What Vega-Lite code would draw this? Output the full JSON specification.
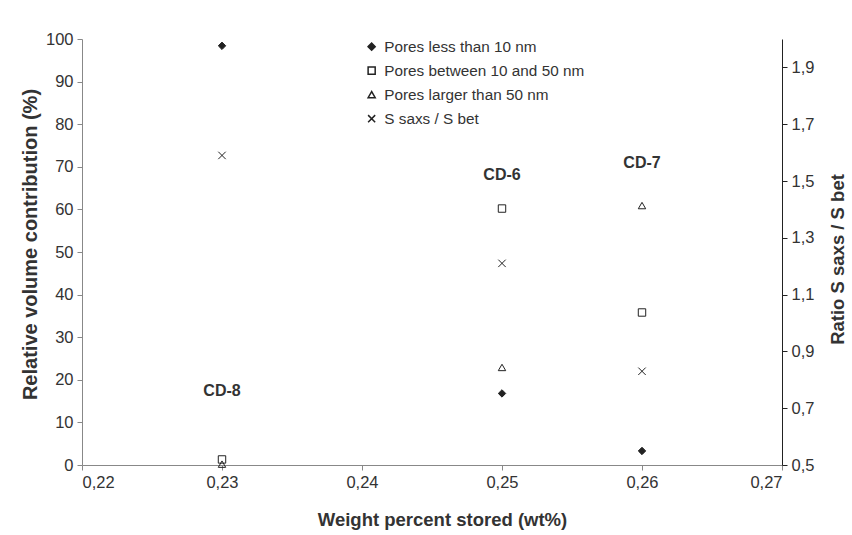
{
  "$schema": "https://vega.github.io/schema/vega-lite/v6.json",
  "width": 700,
  "height": 426,
  "autosize": {"type": "none"},
  "padding": {"left": 82, "top": 39, "right": 70, "bottom": 70},
  "background": "white",
  "config": {
    "view": {"stroke": null},
    "font": "Liberation Sans",
    "axis": {"grid": false, "labelFont": "Liberation Sans", "titleFont": "Liberation Sans", "labelFontSize": 16.5, "labelColor": "#333", "titleColor": "#333", "titleFontSize": 18.5, "titleFontWeight": "bold", "tickSize": 5, "labelPadding": 4}
  },
  "datasets": {
    "pts": [
      {"x": 0.23, "series": "Pores less than 10 nm", "value": 98.4},
      {"x": 0.23, "series": "Pores between 10 and 50 nm", "value": 1.3},
      {"x": 0.23, "series": "Pores larger than 50 nm", "value": 0.2},
      {"x": 0.23, "series": "S saxs / S bet", "value": 1.59},
      {"x": 0.25, "series": "Pores less than 10 nm", "value": 16.8},
      {"x": 0.25, "series": "Pores between 10 and 50 nm", "value": 60.2},
      {"x": 0.25, "series": "Pores larger than 50 nm", "value": 22.9},
      {"x": 0.25, "series": "S saxs / S bet", "value": 1.21},
      {"x": 0.26, "series": "Pores less than 10 nm", "value": 3.3},
      {"x": 0.26, "series": "Pores between 10 and 50 nm", "value": 35.8},
      {"x": 0.26, "series": "Pores larger than 50 nm", "value": 60.9},
      {"x": 0.26, "series": "S saxs / S bet", "value": 0.83}
    ],
    "labels": [
      {"x": 0.23, "y": 17.4, "label": "CD-8"},
      {"x": 0.25, "y": 68.1, "label": "CD-6"},
      {"x": 0.26, "y": 71.0, "label": "CD-7"}
    ]
  },
  "layer": [
    {
      "layer": [
        {
          "data": {"name": "pts"},
          "transform": [{"filter": "datum.series !== 'S saxs / S bet'"}],
          "mark": {"type": "point", "filled": true, "size": 55, "strokeWidth": 1, "stroke": "#222", "opacity": 1},
          "encoding": {
            "x": {"field": "x", "type": "quantitative", "scale": {"domain": [0.22, 0.27], "nice": false, "zero": false}, "axis": {"values": [0.22, 0.23, 0.24, 0.25, 0.26, 0.27], "labelExpr": "replace(format(datum.value, '.2f'), '.', ',')", "title": "Weight percent stored (wt%)", "titleX": 360, "domainColor": "#888", "tickColor": "#888", "titlePadding": 20}},
            "y": {"field": "value", "type": "quantitative", "scale": {"domain": [0, 100], "nice": false}, "axis": {"values": [0, 10, 20, 30, 40, 50, 60, 70, 80, 90, 100], "title": "Relative volume contribution (%)", "titleFontSize": 20, "titleY": 205, "domainColor": "#888", "tickColor": "#888", "titlePadding": 5}},
            "shape": {"field": "series", "type": "nominal", "scale": {"domain": ["Pores less than 10 nm", "Pores between 10 and 50 nm", "Pores larger than 50 nm", "S saxs / S bet"], "range": ["diamond", "square", "triangle-up", "M-1,-1L1,1M1,-1L-1,1"]}, "legend": {"title": null, "orient": "none", "legendX": 282, "legendY": 0, "labelFontSize": 15.3, "labelColor": "#333", "labelLimit": 400, "symbolSize": 50, "rowPadding": 8, "labelOffset": 5, "encode": {"symbols": {"update": {"stroke": {"value": "#222"}, "strokeWidth": {"value": 1}, "opacity": {"value": 1}}}}}},
            "fill": {"field": "series", "type": "nominal", "scale": {"domain": ["Pores less than 10 nm", "Pores between 10 and 50 nm", "Pores larger than 50 nm", "S saxs / S bet"], "range": ["#222", "transparent", "transparent", "transparent"]}, "legend": {"title": null, "orient": "none", "legendX": 282, "legendY": 0, "labelFontSize": 15.3, "labelColor": "#333", "labelLimit": 400, "symbolSize": 50, "rowPadding": 8, "labelOffset": 5, "encode": {"symbols": {"update": {"stroke": {"value": "#222"}, "strokeWidth": {"value": 1}, "opacity": {"value": 1}}}}}}
          }
        },
        {
          "data": {"name": "labels"},
          "mark": {"type": "text", "fontWeight": "bold", "fontSize": 16, "color": "#333", "font": "Liberation Sans"},
          "encoding": {
            "x": {"field": "x", "type": "quantitative"},
            "y": {"field": "y", "type": "quantitative"},
            "text": {"field": "label"}
          }
        }
      ]
    },
    {
      "data": {"name": "pts"},
      "transform": [{"filter": "datum.series === 'S saxs / S bet'"}],
      "mark": {"type": "point", "filled": true, "size": 55, "strokeWidth": 1, "stroke": "#222", "opacity": 1},
      "encoding": {
        "x": {"field": "x", "type": "quantitative"},
        "y": {"field": "value", "type": "quantitative", "scale": {"domain": [0.5, 2.0], "nice": false, "zero": false}, "axis": {"orient": "right", "values": [0.5, 0.7, 0.9, 1.1, 1.3, 1.5, 1.7, 1.9], "labelExpr": "replace(format(datum.value, '.1f'), '.', ',')", "title": "Ratio S saxs / S bet", "titleAngle": 270, "titleY": 220, "domainColor": "#222", "tickColor": "#222", "titlePadding": 34}},
        "shape": {"field": "series", "type": "nominal", "scale": {"domain": ["Pores less than 10 nm", "Pores between 10 and 50 nm", "Pores larger than 50 nm", "S saxs / S bet"], "range": ["diamond", "square", "triangle-up", "M-1,-1L1,1M1,-1L-1,1"]}},
        "fill": {"field": "series", "type": "nominal", "scale": {"domain": ["Pores less than 10 nm", "Pores between 10 and 50 nm", "Pores larger than 50 nm", "S saxs / S bet"], "range": ["#222", "transparent", "transparent", "transparent"]}}
      }
    }
  ],
  "resolve": {"scale": {"y": "independent"}}
}
